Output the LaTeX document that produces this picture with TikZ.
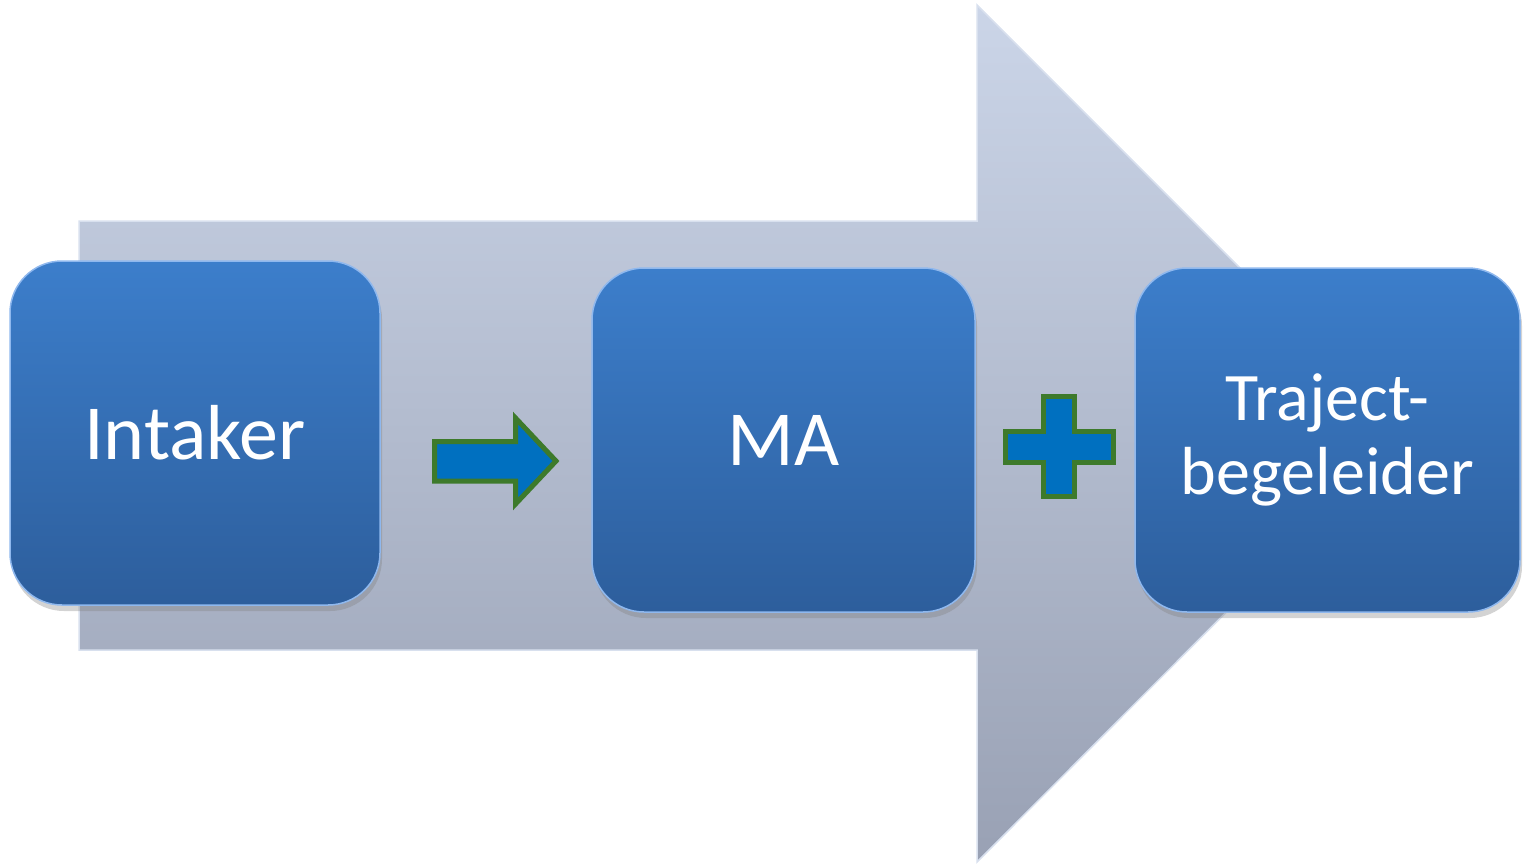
\documentclass[tikz,border=0pt]{standalone}
\usepackage{fontspec}
\setmainfont{Carlito}
\usetikzlibrary{shadows}
\definecolor{boxtop}{HTML}{3C7ECB}
\definecolor{boxbot}{HTML}{2D5E9C}
\definecolor{boxedge}{HTML}{8FB8EE}
\definecolor{bgtop}{HTML}{CBD5E8}
\definecolor{bgbot}{HTML}{99A1B4}
\definecolor{bgedge}{HTML}{D8E0EE}
\definecolor{symfill}{HTML}{0070C0}
\definecolor{symedge}{HTML}{3D7A2B}
\tikzset{
  stagebox/.style={rectangle, rounded corners=52pt, top color=boxtop, bottom color=boxbot,
    draw=boxedge, line width=1.5pt, text=white, align=center,
    font=\fontsize{78}{80}\selectfont,
    drop shadow={opacity=0.35, shadow xshift=2pt, shadow yshift=-6pt}},
  symbol/.style={fill=symfill, draw=symedge, line width=5pt, line join=miter},
}
\begin{document}
\begin{tikzpicture}[x=1pt,y=-1pt]
\useasboundingbox (0,0) rectangle (1523,863);
% big background arrow
\path[top color=bgtop, bottom color=bgbot, draw=bgedge, line width=1.5pt]
  (79,221) -- (977,221) -- (977,5) -- (1405,433) -- (977,862) -- (977,650) -- (79,650) -- cycle;
% stages
\node[stagebox, minimum width=370pt, minimum height=344pt] (intaker) at (195,433) {Intaker};
\node[stagebox, minimum width=383pt, minimum height=344pt] (ma) at (783.5,440) {MA};
\node[stagebox, minimum width=385pt, minimum height=344pt, font=\fontsize{68}{74}\selectfont] (traject) at (1327.5,440) {Traject-\\begeleider};
% arrow symbol
\path[symbol] (434.5,441.5) -- (515.5,441.5) -- (515.5,418) -- (556,461) -- (515.5,504) -- (515.5,481) -- (434.5,481) -- cycle;
% plus symbol
\path[symbol] (1043.5,396.5) -- (1074.5,396.5) -- (1074.5,431.5) -- (1113.5,431.5) -- (1113.5,462.5)
  -- (1074.5,462.5) -- (1074.5,496.5) -- (1043.5,496.5) -- (1043.5,462.5) -- (1005.5,462.5)
  -- (1005.5,431.5) -- (1043.5,431.5) -- cycle;
\end{tikzpicture}
\end{document}
